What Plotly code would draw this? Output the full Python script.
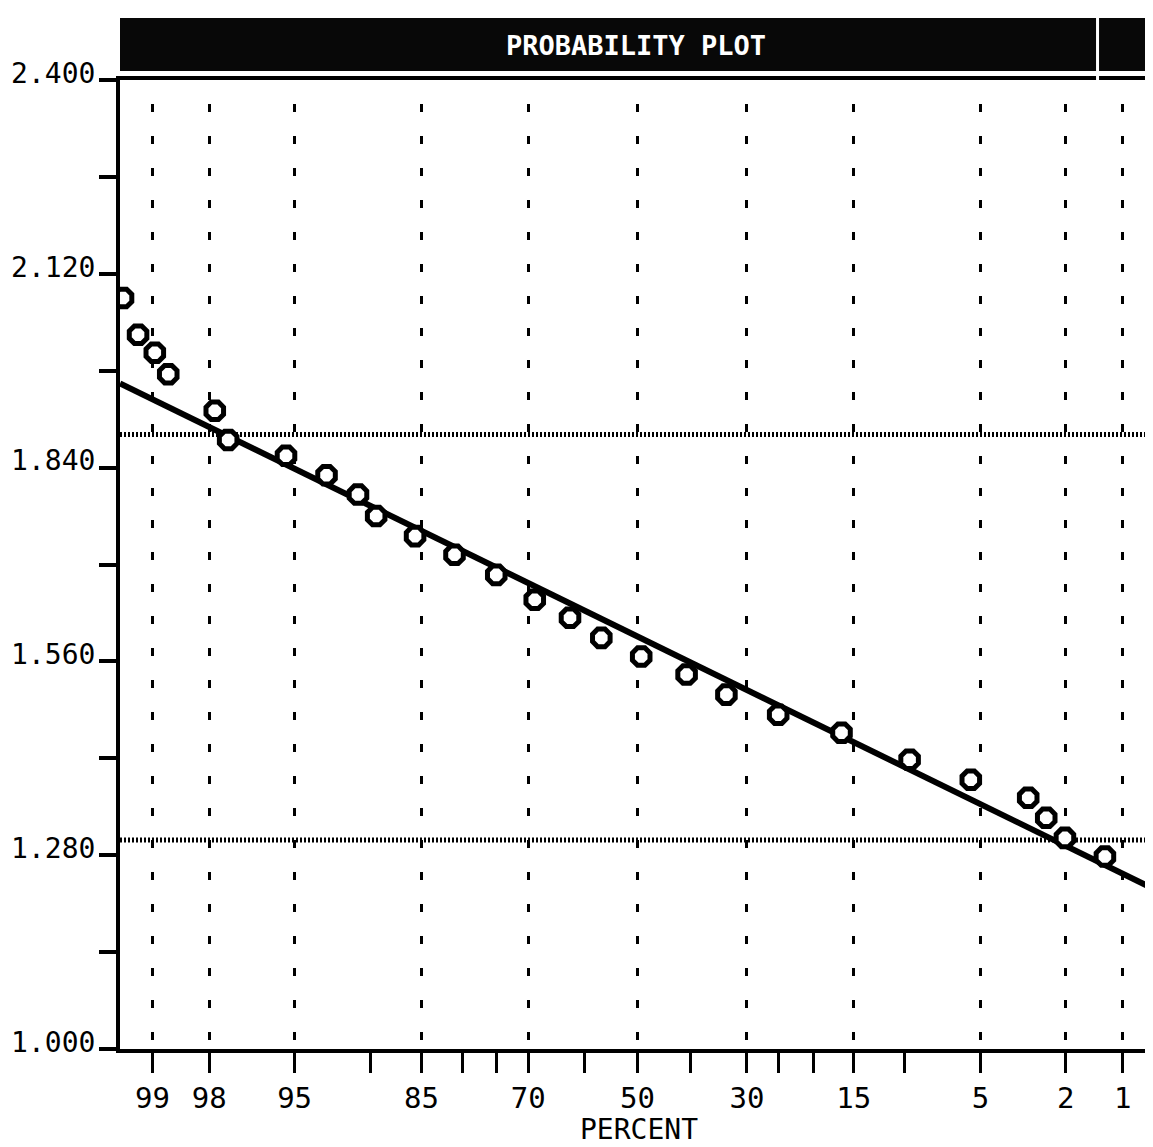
from statistics import NormalDist
import plotly.graph_objects as go

ND = NormalDist()


def pz(p):
    """percent -> normal-probability axis coordinate (99 on the left, 1 on the right)"""
    return ND.inv_cdf(1 - p / 100.0)


# ---------------- data ----------------
title_text = "PROBABILITY PLOT"
x_title = "PERCENT"

pct_labeled = [99, 98, 95, 85, 70, 50, 30, 15, 5, 2, 1]
pct_minor = [90, 80, 75, 60, 40, 25, 20, 10]

y_ticks = [1.0, 1.28, 1.56, 1.84, 2.12, 2.40]
y_tick_labels = ["1.000", "1.280", "1.560", "1.840", "2.120", "2.400"]

pct_points = [99.32, 99.17, 98.97, 98.78, 97.87, 97.52, 95.41, 93.21, 91.0,
              89.5, 85.7, 81.0, 75.1, 68.9, 62.7, 56.9, 49.3, 40.7, 33.5,
              25.0, 16.4, 9.6, 5.5, 3.05, 2.5, 2.02, 1.25]
y_points = [2.085, 2.032, 2.006, 1.975, 1.922, 1.880, 1.857, 1.829, 1.801,
            1.770, 1.741, 1.714, 1.685, 1.649, 1.623, 1.594, 1.567, 1.541,
            1.512, 1.483, 1.457, 1.418, 1.389, 1.363, 1.334, 1.305, 1.278]

fit_mean = 1.596
fit_sd = 0.1473
upper_limit = 1.888
lower_limit = 1.302

pct_range = [99.347, 0.628]
y_range = [1.0, 2.4]

# ---------------- derived ----------------
x_points = [pz(p) for p in pct_points]
x_range = [pz(p) for p in pct_range]
x_line = x_range
y_line = [fit_mean + fit_sd * ND.inv_cdf(p / 100.0) for p in pct_range]

FONT = "DejaVu Sans Mono"

fig = go.Figure()

fig.add_trace(go.Scatter(
    x=x_line, y=y_line, mode="lines",
    line=dict(color="black", width=6),
    showlegend=False, hoverinfo="skip",
))

fig.add_trace(go.Scatter(
    x=x_points, y=y_points, mode="markers",
    marker=dict(symbol="octagon", size=19, color="white",
                line=dict(color="black", width=5)),
    showlegend=False,
))

# limit lines
for lim in (upper_limit, lower_limit):
    fig.add_shape(type="line", xref="paper", yref="y", x0=0, x1=1,
                  y0=lim, y1=lim,
                  line=dict(color="black", width=5, dash="2px,2px"),
                  layer="below")

# title band
fig.add_shape(type="rect", xref="paper", yref="paper",
              x0=0, x1=1.0029, y0=1.0093, y1=1.0640,
              fillcolor="#080808", line=dict(width=0), layer="above")
fig.add_shape(type="rect", xref="paper", yref="paper",
              x0=0.9403, x1=0.9432, y0=0.9965, y1=1.068,
              fillcolor="white", line=dict(width=0), layer="above")

fig.add_annotation(text=title_text, xref="paper", yref="paper",
                   x=0.497, y=1.0361, xanchor="center", yanchor="middle",
                   showarrow=False,
                   font=dict(family=FONT, size=27, color="white", weight="bold"))

fig.add_annotation(text=x_title, xref="paper", yref="paper",
                   x=0.5, y=-0.0826, xanchor="center", yanchor="middle",
                   showarrow=False,
                   font=dict(family=FONT, size=28, color="black"))

fig.update_layout(
    width=1153, height=1147,
    margin=dict(l=112, r=3, t=72, b=106, autoexpand=False),
    paper_bgcolor="white", plot_bgcolor="white",
    font=dict(family=FONT, color="black"),
    showlegend=False,
)

fig.update_xaxes(
    range=x_range,
    automargin=False,
    tickmode="array",
    tickvals=[pz(p) for p in pct_labeled],
    ticktext=[str(p) for p in pct_labeled],
    ticks="outside", ticklen=20, tickwidth=3, tickcolor="black",
    tickfont=dict(family=FONT, size=29, color="black"),
    ticklabelstandoff=0,
    showgrid=True, gridcolor="black", gridwidth=3,
    griddash="0px,24px,8px,0px",
    minor=dict(tickmode="array", tickvals=[pz(p) for p in pct_minor],
               ticks="outside", ticklen=20, tickwidth=3, tickcolor="black",
               showgrid=False),
    showline=True, linecolor="black", linewidth=4, mirror=True,
    zeroline=False,
)

fig.update_yaxes(
    range=y_range,
    automargin=False,
    tickmode="array",
    tickvals=y_ticks,
    ticktext=y_tick_labels,
    ticks="outside", ticklen=17, tickwidth=4, tickcolor="black",
    tickfont=dict(family=FONT, size=28, color="black"),
    ticklabelshift=-7,
    ticklabelstandoff=-2,
    minor=dict(tickmode="linear", tick0=1.0, dtick=0.14,
               ticks="outside", ticklen=17, tickwidth=4, tickcolor="black",
               showgrid=False),
    showgrid=False,
    showline=True, linecolor="black", linewidth=4, mirror=True,
    zeroline=False,
)

fig.write_html("out.html")
